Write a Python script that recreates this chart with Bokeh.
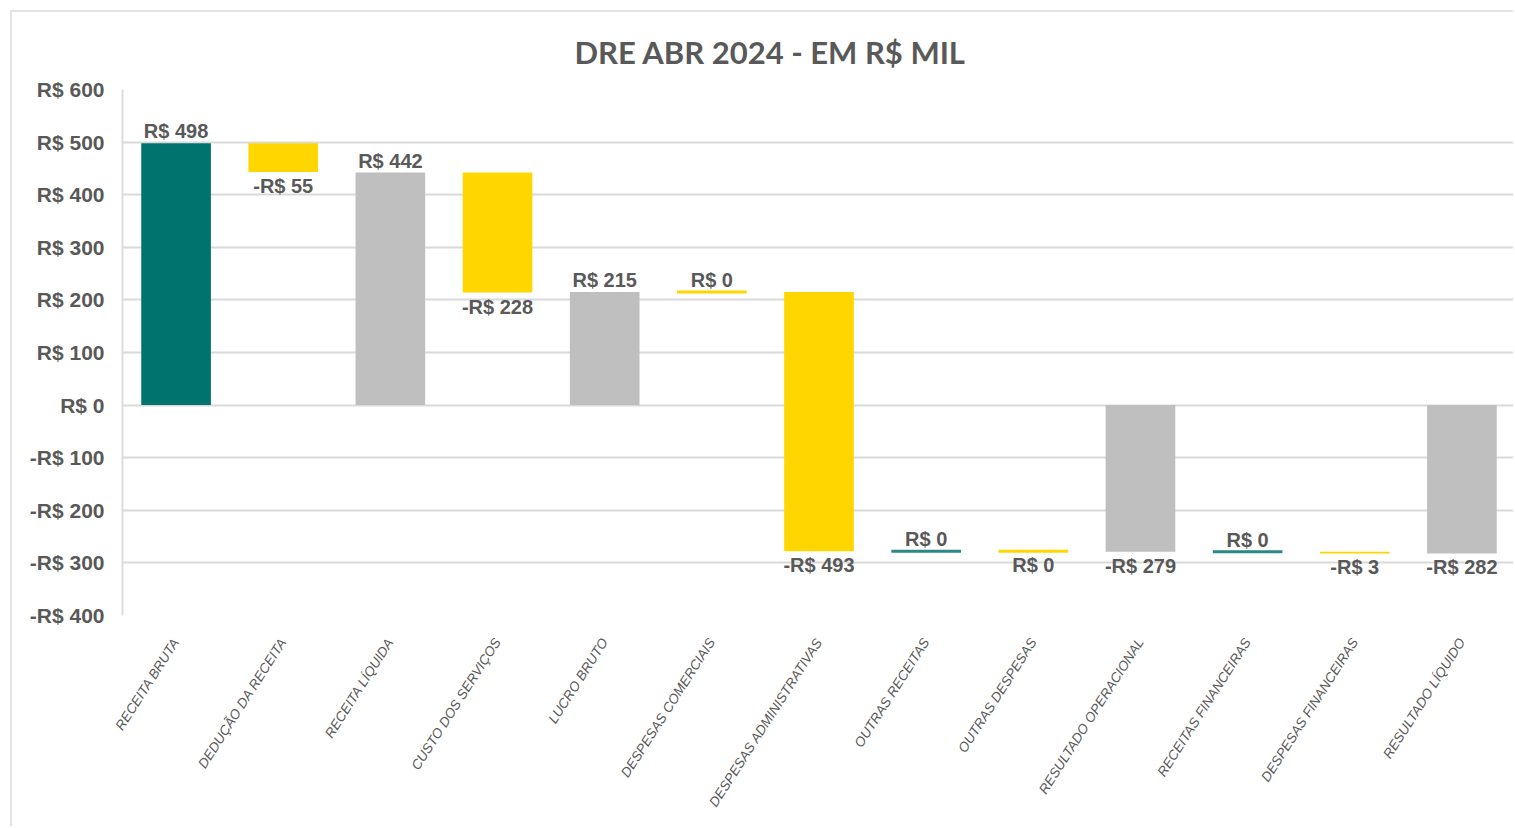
from bokeh.plotting import figure
from bokeh.models import Range1d, FixedTicker, ColumnDataSource, Title
from bokeh.core.properties import value
from bokeh.embed import file_html
from bokeh.resources import INLINE

# ---- data ----
categories = [
    "RECEITA BRUTA", "DEDUÇÃO DA RECEITA", "RECEITA LÍQUIDA", "CUSTO DOS SERVIÇOS",
    "LUCRO BRUTO", "DESPESAS COMERCIAIS", "DESPESAS ADMINISTRATIVAS", "OUTRAS RECEITAS",
    "OUTRAS DESPESAS", "RESULTADO OPERACIONAL", "RECEITAS FINANCEIRAS",
    "DESPESAS FINANCEIRAS", "RESULTADO LÍQUIDO",
]
values = [498, -55, 442, -228, 215, 0, -493, 0, 0, -279, 0, -3, -282]
kinds = ["start", "despesa", "total", "despesa", "total", "despesa", "despesa",
         "receita", "despesa", "total", "receita", "despesa", "total"]
y_ticks = [-400, -300, -200, -100, 0, 100, 200, 300, 400, 500, 600]
y_tick_labels = ["-R$ 400", "-R$ 300", "-R$ 200", "-R$ 100", "R$ 0", "R$ 100",
                 "R$ 200", "R$ 300", "R$ 400", "R$ 500", "R$ 600"]
title_text = "DRE ABR 2024 - EM R$ MIL"

# ---- styles ----
TEAL = "#00736E"
TEAL_LINE = "#2A8984"
YELLOW = "#FFD600"
GRAY = "#BFBFBF"
TXT = "#595959"
kind_color = {"start": TEAL, "total": GRAY, "despesa": YELLOW, "receita": TEAL_LINE}

# ---- waterfall computation ----
bottoms, tops, colors, label_y, below, labels = [], [], [], [], [], []
level = 0
for v, k in zip(values, kinds):
    if k in ("start", "total"):
        b, t = 0, v
        level = v
    else:
        b, t = level, level + v
        level = t
    lo, hi = min(b, t), max(b, t)
    bottoms.append(lo)
    tops.append(hi)
    colors.append(kind_color[k])
    is_below = v < 0 or (k == "despesa" and t < 0)
    below.append(is_below)
    label_y.append(lo if is_below else hi)
    labels.append(("-" if v < 0 else "") + "R$ " + str(abs(v)))

def subset(mask):
    idx = [i for i, m in enumerate(mask) if m]
    return ColumnDataSource(dict(
        x=[categories[i] for i in idx],
        bottom=[bottoms[i] for i in idx],
        top=[tops[i] for i in idx],
        color=[colors[i] for i in idx],
        ly=[label_y[i] for i in idx],
        label=[labels[i] for i in idx],
    ))

bars_src = subset([v != 0 for v in values])
zero_src = subset([v == 0 for v in values])
above_src = subset([not b for b in below])
below_src = subset(below)

p = figure(
    x_range=categories, y_range=Range1d(-400, 600),
    width=1503, height=816, output_backend="svg", toolbar_location=None,
    min_border_left=110, min_border_right=0, min_border_top=77, min_border_bottom=213,
    background_fill_color="white", border_fill_color="white",
)
p.outline_line_color = None
p.styles = {"margin-left": "10px", "margin-top": "10px",
            "border-left": "2px solid #E3E3E3", "border-top": "2px solid #E3E3E3"}

title = Title(text=title_text, align="left", vertical_align="middle", text_font="Lato",
              text_font_size="31px", text_font_style="bold", text_color=TXT,
              standoff=36, offset=452)
p.add_layout(title, "above")

p.vbar(x="x", bottom="bottom", top="top", width=0.65, fill_color="color",
       line_color=None, source=bars_src)
p.vbar(x="x", bottom="bottom", top="top", width=0.65, fill_color="color",
       line_color="color", line_width=3, source=zero_src)

p.text(x="x", y="ly", text="label", source=above_src, text_align="center",
       text_baseline="bottom", y_offset=-1, text_font=value("Liberation Sans"),
       text_font_size="20px", text_font_style="bold", text_color=TXT)
p.text(x="x", y="ly", text="label", source=below_src, text_align="center",
       text_baseline="top", y_offset=3, text_font=value("Liberation Sans"),
       text_font_size="20px", text_font_style="bold", text_color=TXT)

# axes
p.yaxis.ticker = FixedTicker(ticks=y_ticks)
p.yaxis.major_label_overrides = dict(zip(y_ticks, y_tick_labels))
p.yaxis.axis_line_color = "#DDDDDD"
p.yaxis.axis_line_width = 2
p.yaxis.major_tick_line_color = None
p.yaxis.minor_tick_line_color = None
p.yaxis.major_label_standoff = 12
p.yaxis.major_label_text_font = "Liberation Sans"
p.yaxis.major_label_text_font_size = "21px"
p.yaxis.major_label_text_font_style = "bold"
p.yaxis.major_label_text_color = TXT

p.xaxis.axis_line_color = None
p.xaxis.major_tick_line_color = None
p.xaxis.minor_tick_line_color = None
p.xaxis.major_label_orientation = 1.0
p.xaxis.major_label_standoff = 18
p.xaxis.major_label_text_font = "Liberation Sans"
p.xaxis.major_label_text_font_size = "13.5px"
p.xaxis.major_label_text_font_style = "italic"
p.xaxis.major_label_text_color = TXT

p.xgrid.grid_line_color = None
p.ygrid.grid_line_color = "#D9D9D9"
p.ygrid.grid_line_width = 2

open("out.html", "w").write(file_html(p, INLINE))
